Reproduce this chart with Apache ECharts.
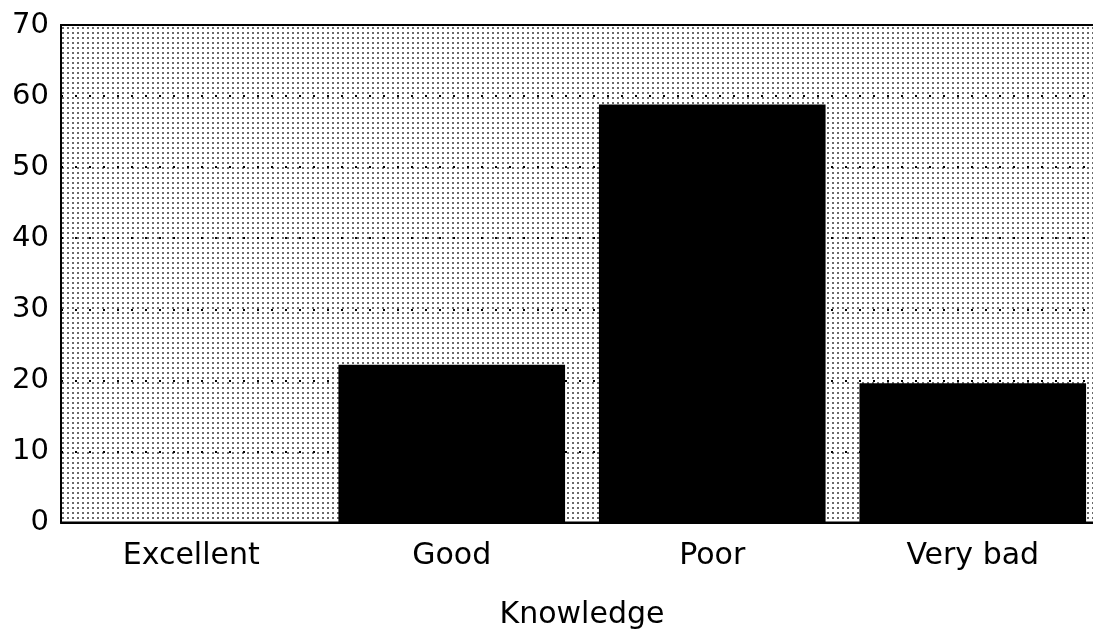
<!DOCTYPE html>
<html>
<head>
<meta charset="utf-8">
<script src="https://cdn.jsdelivr.net/npm/echarts@6/dist/echarts.min.js"></script>
<style>html,body{margin:0;padding:0;background:#fff;}#c{width:1093px;height:630px;}</style>
</head>
<body>
<div id="c"></div>
<script>
const categories = ['Excellent', 'Good', 'Poor', 'Very bad'];
const values = [0, 22.2, 58.8, 19.6];
const yTicks = [0, 10, 20, 30, 40, 50, 60, 70];
const xAxisTitle = 'Knowledge';

// dotted background pattern
const pc = document.createElement('canvas');
pc.width = 5; pc.height = 5;
const pctx = pc.getContext('2d');
pctx.fillStyle = '#ffffff';
pctx.fillRect(0, 0, 5, 5);
pctx.fillStyle = '#6a6a6a';
pctx.fillRect(2, 2, 2, 2);

const chart = echarts.init(document.getElementById('c'), null, {renderer: 'canvas'});
const font = 'DejaVu Sans';
chart.setOption({
  animation: false,
  backgroundColor: '#ffffff',
  grid: {
    left: 61, top: 25, width: 1042, height: 497.5,
    show: true,
    backgroundColor: {image: pc, repeat: 'repeat'},
    borderColor: '#000', borderWidth: 2,
    containLabel: false,
    outerBoundsMode: 'none'
  },
  xAxis: {
    type: 'category',
    data: categories,
    name: xAxisTitle,
    nameLocation: 'middle',
    nameGap: 78,
    nameTextStyle: {fontFamily: font, fontSize: 30, color: '#000'},
    axisLine: {show: true, lineStyle: {color: '#000', width: 2}},
    axisTick: {show: false},
    axisLabel: {fontFamily: font, fontSize: 30, color: '#000', margin: 19},
    splitLine: {show: false}
  },
  yAxis: {
    type: 'value',
    min: yTicks[0], max: yTicks[yTicks.length - 1], interval: 10,
    axisLine: {show: true, lineStyle: {color: '#000', width: 2}},
    axisTick: {show: false},
    axisLabel: {fontFamily: font, fontSize: 29, color: '#000', margin: 12},
    splitLine: {show: true, lineStyle: {color: '#000', width: 2, type: [2, 12]}}
  },
  series: [{
    type: 'bar',
    data: values,
    barCategoryGap: '13%',
    itemStyle: {color: '#000'}
  }]
});
</script>
</body>
</html>
